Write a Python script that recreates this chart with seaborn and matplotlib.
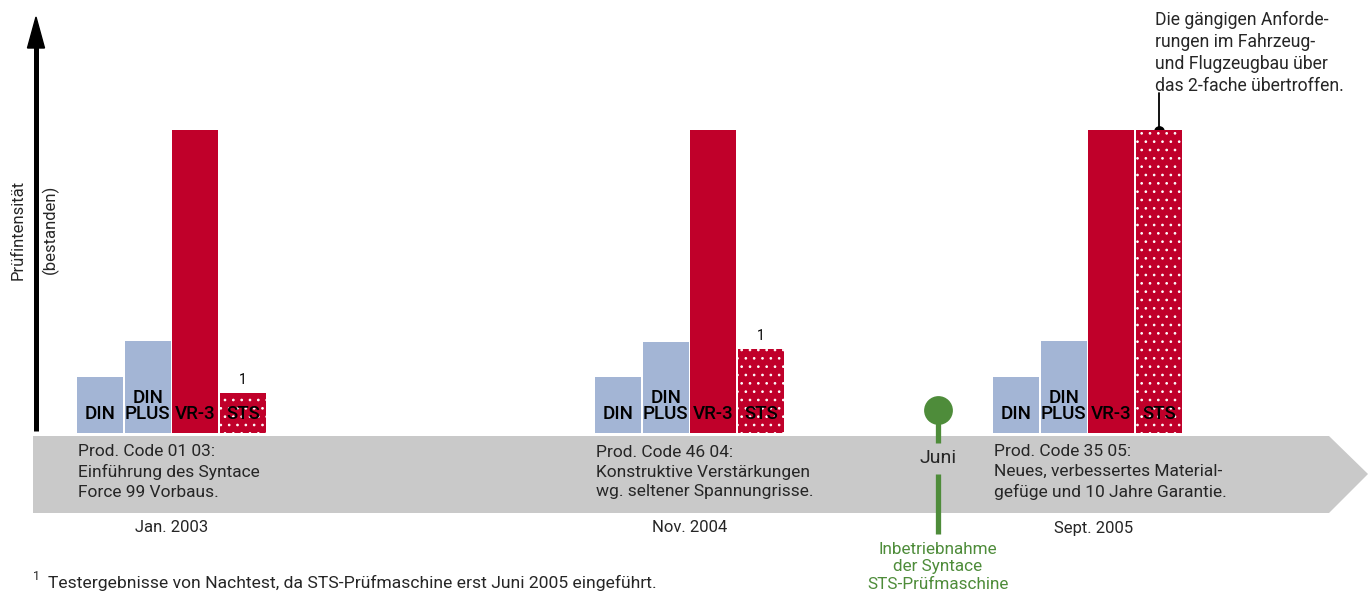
import numpy as np
import pandas as pd
import matplotlib
matplotlib.use("Agg")
import matplotlib.pyplot as plt
from matplotlib import font_manager
import seaborn as sns

# ---------------- data ----------------
dates = ["Jan. 2003", "Nov. 2004", "Sept. 2005"]
categories = ["DIN", "DIN\nPLUS", "VR-3", "STS"]
din = [18.5, 18.5, 18.5]
din_plus = [30.4, 30.0, 30.4]
vr3 = [100, 100, 100]
sts = [13.2, 27.7, 100]
sts_note = ["1", "1", ""]
prod_texts = [
    "Prod. Code 01 03:\nEinführung des Syntace\nForce 99 Vorbaus.",
    "Prod. Code 46 04:\nKonstruktive Verstärkungen\nwg. seltener Spannungrisse.",
    "Prod. Code 35 05:\nNeues, verbessertes Material-\ngefüge und 10 Jahre Garantie.",
]
milestone_label = "Juni"
milestone_text = "Inbetriebnahme\nder Syntace\nSTS-Prüfmaschine"
annotation_text = ("Die gängigen Anforde-\nrungen im Fahrzeug-\n"
                   "und Flugzeugbau über\ndas 2-fache übertroffen.")
footnote = "Testergebnisse von Nachtest, da STS-Prüfmaschine erst Juni 2005 eingeführt."
ylabel1 = "Prüfintensität"
ylabel2 = "(bestanden)"

# ---------------- style ----------------
sns.set_theme(style="white")
avail = {f.name for f in font_manager.fontManager.ttflist}
main_font = "Liberation Sans Narrow" if "Liberation Sans Narrow" in avail else "Roboto"
plt.rcParams["font.family"] = [main_font, "DejaVu Sans"]
plt.rcParams["hatch.linewidth"] = 0.7

BLUE = "#a3b5d5"
RED = "#c0002a"
GRAY = "#c9c9c9"
GREEN = "#4e8c3a"
palette = {"DIN": BLUE, "DIN\nPLUS": BLUE, "VR-3": RED, "STS": RED}

W, H = 1368, 592
fig = plt.figure(figsize=(W / 100, H / 100), dpi=100)
fig.patch.set_facecolor("white")

# pixel axes for decorations
axp = fig.add_axes([0, 0, 1, 1])
axp.set_xlim(0, W)
axp.set_ylim(H, 0)
axp.axis("off")

# bar axes: value 0 at pixel 433, value 100 at pixel 130
BASE, SCALE = 433, 3.03
axb = fig.add_axes([0, 0, 1, 1], zorder=3)
axb.patch.set_alpha(0)

def val(p):
    return (BASE - p) / SCALE

group_centers = [171.5, 689.5, 1087.5]
step = 47.7
rows = []
series = [din, din_plus, vr3, sts]
for g, gc in enumerate(group_centers):
    for i, cat in enumerate(categories):
        rows.append({"x": gc + (i - 1.5) * step, "value": series[i][g],
                     "category": cat, "group": dates[g]})
df = pd.DataFrame(rows)

sns.barplot(data=df, x="x", y="value", hue="category", hue_order=categories,
            palette=palette, native_scale=True, dodge=False, width=0.965,
            saturation=1, legend=False, ax=axb, linewidth=0)
axb.set_xlim(0, W)
axb.set_ylim((BASE - H) / SCALE, BASE / SCALE)
axb.axis("off")

for bar in axb.containers[3]:
    bar.set_hatch("..")
    bar.set_edgecolor("white")
    bar.set_linewidth(0)

# bar labels
for _, r in df.iterrows():
    axb.text(r["x"], val(423), r["category"], ha="center", va="bottom",
             fontsize=13.5, fontweight="medium", color="black",
             linespacing=0.85, zorder=5)
for g, gc in enumerate(group_centers):
    if sts_note[g]:
        axb.text(gc + 1.5 * step, sts[g] + 2.0, sts_note[g], ha="center",
                 va="bottom", fontsize=10, color="black")

# y axis arrow
axp.plot([36, 36], [47, 431], color="black", lw=3.6, solid_capstyle="butt")
axp.fill([27.5, 36, 44.5], [48, 17, 48], color="black")
axp.text(18, 230, ylabel1, rotation=90, ha="center", va="center", fontsize=12)
axp.text(50, 229, ylabel2, rotation=90, ha="center", va="center", fontsize=12)

# timeline band
axp.fill([33, 1329, 1368, 1329, 33], [436, 436, 474, 513, 513], color=GRAY, lw=0)
for g, gc in enumerate(group_centers):
    axp.text(gc - 2 * step + 2, 472, prod_texts[g], ha="left", va="center",
             fontsize=12.5, linespacing=1.36)
    axp.text(gc + (6 if g == 2 else 0), 528, dates[g], ha="center",
             va="center", fontsize=12)

# milestone
mx = 938
axp.plot([mx, mx], [410, 443], color=GREEN, lw=3.8, solid_capstyle="butt")
axp.plot([mx, mx], [474, 534], color=GREEN, lw=3.8, solid_capstyle="butt")
axp.scatter([mx], [410], s=430, color=GREEN, zorder=4, linewidths=0)
axp.text(mx, 458, milestone_label, ha="center", va="center", fontsize=14)
axp.text(mx, 567, milestone_text, ha="center", va="center", fontsize=12.3,
         color=GREEN, linespacing=1.2)

# annotation
axp.text(1155, 53, annotation_text, ha="left", va="center", fontsize=12.7,
         linespacing=1.3)
axp.plot([1159, 1159], [93, 131], color="black", lw=1.3)
axp.scatter([1159], [131], s=60, color="black", zorder=6, linewidths=0)

# footnote
axp.text(36, 577, "1", ha="center", va="center", fontsize=9)
axp.text(48, 583, footnote, ha="left", va="center", fontsize=12.6)

fig.savefig("out.png", dpi=100, facecolor="white")
